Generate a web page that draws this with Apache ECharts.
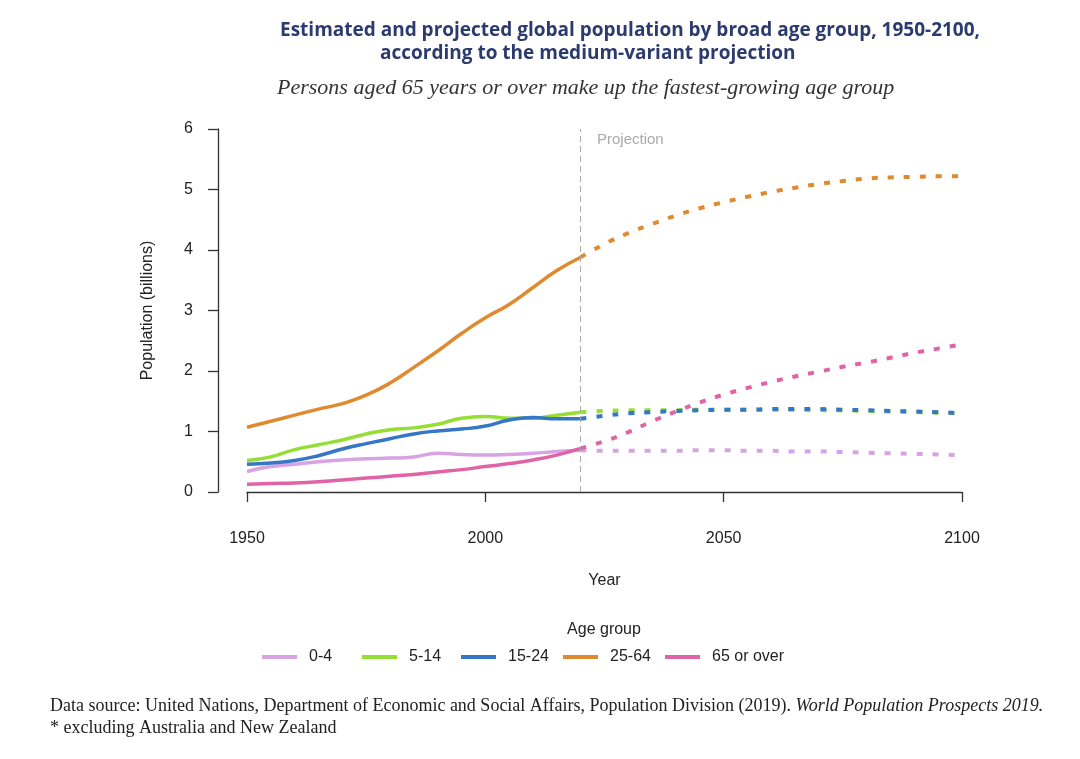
<!DOCTYPE html>
<html>
<head>
<meta charset="utf-8">
<script src="https://cdn.jsdelivr.net/npm/echarts@6/dist/echarts.min.js"></script>
<style>
html,body{margin:0;padding:0;background:#fff;}
#chart{width:1080px;height:759px;}
</style>
</head>
<body>
<div id="chart"></div>
<script>
// ---- data ----
const histYears = [1950,1955,1960,1965,1970,1975,1980,1985,1990,1995,2000,2005,2010,2015,2020];
const projYears = [2020,2025,2030,2035,2040,2045,2050,2055,2060,2065,2070,2075,2080,2085,2090,2095,2100];
const groups = ['0-4','5-14','15-24','25-64','65 or over'];
const colors = ['#d8a3e2','#94de36','#3676c6','#e08a2f','#e063a6'];

const hist_0_4   = [0.34,0.42,0.46,0.50,0.53,0.55,0.56,0.58,0.64,0.62,0.61,0.62,0.64,0.67,0.69];
const hist_5_14  = [0.52,0.58,0.70,0.78,0.86,0.96,1.03,1.06,1.12,1.22,1.25,1.22,1.22,1.27,1.32];
const hist_15_24 = [0.46,0.48,0.52,0.60,0.71,0.80,0.88,0.96,1.01,1.04,1.09,1.19,1.23,1.21,1.21];
const hist_25_64 = [1.07,1.17,1.27,1.37,1.46,1.60,1.80,2.06,2.33,2.62,2.88,3.10,3.38,3.66,3.88];
const hist_65    = [0.13,0.14,0.15,0.17,0.20,0.23,0.26,0.29,0.33,0.37,0.42,0.47,0.53,0.61,0.72];

const proj_0_4   = [0.69,0.68,0.68,0.68,0.68,0.69,0.69,0.68,0.68,0.67,0.67,0.66,0.65,0.64,0.63,0.62,0.61];
const proj_5_14  = [1.32,1.34,1.35,1.35,1.35,1.36,1.36,1.36,1.36,1.36,1.35,1.35,1.34,1.33,1.32,1.31,1.30];
const proj_15_24 = [1.21,1.26,1.30,1.32,1.34,1.35,1.36,1.36,1.37,1.37,1.37,1.36,1.35,1.34,1.33,1.32,1.30];
const proj_25_64 = [3.88,4.10,4.28,4.43,4.57,4.69,4.79,4.88,4.96,5.03,5.09,5.14,5.18,5.20,5.21,5.22,5.22];
const proj_65    = [0.72,0.84,0.99,1.17,1.33,1.48,1.61,1.72,1.82,1.91,1.99,2.07,2.14,2.22,2.30,2.37,2.44];

const xTicks = [1950,2000,2050,2100];
const yTicks = [0,1,2,3,4,5,6];
const projectionYear = 2020;

const histAll = [hist_0_4,hist_5_14,hist_15_24,hist_25_64,hist_65];
const projAll = [proj_0_4,proj_5_14,proj_15_24,proj_25_64,proj_65];

const pair = (ys, vs) => ys.map((y,i)=>[y, vs[i]]);

const series = [];
groups.forEach((g,i)=>{
  series.push({
    name: g + ' (proj)', type:'line', smooth:true, showSymbol:false, silent:true,
    data: pair(projYears, projAll[i]),
    lineStyle:{color:colors[i], width:4, type:[6,10]},
    itemStyle:{color:colors[i]}, z: 2
  });
});
groups.forEach((g,i)=>{
  const s = {
    name: g, type:'line', smooth:true, showSymbol:false, silent:true,
    data: pair(histYears, histAll[i]),
    lineStyle:{color:colors[i], width:3.5},
    itemStyle:{color:colors[i]}, z: 3
  };
  if(i===0){
    s.markLine = {
      silent:true, symbol:'none',
      label:{show:false},
      lineStyle:{color:'#aaaaaa', type:[6,4], width:1},
      data:[{xAxis: projectionYear}]
    };
  }
  series.push(s);
});

const legendLefts = [262,362,461,563,665];
const legends = groups.map((g,i)=>({
  data:[g], left:legendLefts[i], top:649, padding:0, orient:'horizontal',
  icon:'rect', itemWidth:35, itemHeight:4, selectedMode:false,
  textStyle:{fontFamily:'Liberation Sans', fontSize:16, color:'#222', padding:[0,0,0,7]}
}));

const chart = echarts.init(document.getElementById('chart'));
chart.setOption({
  animation:false,
  backgroundColor:'#ffffff',
  grid:{left:247, right:118, top:129, bottom:267},
  xAxis:{
    type:'value', min:1950, max:2100, interval:50, offset:15,
    name:'Year', nameLocation:'middle', nameGap:66,
    nameTextStyle:{fontFamily:'Liberation Sans', fontSize:16, color:'#222'},
    axisLine:{show:true, lineStyle:{color:'#333', width:1.3}},
    axisTick:{show:true, length:10, lineStyle:{color:'#333', width:1.3}},
    axisLabel:{margin:24, fontFamily:'Liberation Sans', fontSize:16, color:'#222',
      formatter: v => xTicks.includes(v) ? String(v) : ''},
    splitLine:{show:false}
  },
  yAxis:{
    type:'value', min:0, max:6, interval:1, offset:29,
    name:'Population (billions)', nameLocation:'middle', nameGap:62, nameRotate:90,
    nameTextStyle:{fontFamily:'Liberation Sans', fontSize:16, color:'#222'},
    axisLine:{show:true, lineStyle:{color:'#333', width:1.3}},
    axisTick:{show:true, length:10, lineStyle:{color:'#333', width:1.3}},
    axisLabel:{margin:25, fontFamily:'Liberation Sans', fontSize:16, color:'#222',
      formatter: v => yTicks.includes(v) ? String(v) : ''},
    splitLine:{show:false}
  },
  legend: legends,
  graphic:[
    {type:'text', x:280, y:21, style:{text:'Estimated and projected global population by broad age group, 1950-2100,',
      fontFamily:'Open Sans', fontWeight:'bold', fontSize:19, fill:'#2b3b6e'}},
    {type:'text', x:380, y:44, style:{text:'according to the medium-variant projection',
      fontFamily:'Open Sans', fontWeight:'bold', fontSize:19, fill:'#2b3b6e'}},
    {type:'text', x:277, y:77, style:{text:'Persons aged 65 years or over make up the fastest-growing age group',
      fontFamily:'Liberation Serif', fontStyle:'italic', fontSize:22, fill:'#333'}},
    {type:'text', x:597, y:132, style:{text:'Projection',
      fontFamily:'Liberation Sans', fontSize:15, fill:'#aaaaaa'}},
    {type:'text', x:604, y:630, style:{text:'Age group', align:'center', verticalAlign:'middle',
      fontFamily:'Liberation Sans', fontSize:16, fill:'#222'}},
    {type:'text', x:50, y:697, style:{
      text:'{n|Data source: United Nations, Department of Economic and Social Affairs, Population Division (2019). }{i|World Population Prospects 2019.}',
      rich:{n:{fontFamily:'Liberation Serif', fontSize:18, fill:'#222'}, i:{fontFamily:'Liberation Serif', fontStyle:'italic', fontSize:18, fill:'#222'}}}},
    {type:'text', x:50, y:719, style:{text:'* excluding Australia and New Zealand',
      fontFamily:'Liberation Serif', fontSize:18, fill:'#222'}}
  ],
  series: series
});
</script>
</body>
</html>
